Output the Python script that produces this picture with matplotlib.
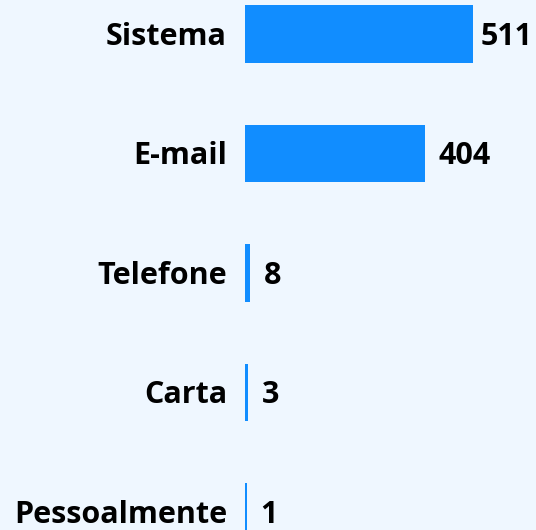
import matplotlib
matplotlib.use("Agg")
import matplotlib.pyplot as plt

categories = ["Sistema", "E-mail", "Telefone", "Carta", "Pessoalmente"]
values = [511, 404, 8, 3, 1]

W, H = 536, 530
dpi = 100
bg = "#EFF7FF"
bar_color = "#118DFF"
txt_color = "#000000"

fig = plt.figure(figsize=(W / dpi, H / dpi), dpi=dpi, facecolor=bg)
left_px = 245
ax = fig.add_axes([left_px / W, 0, (W - left_px) / W, 1], facecolor=bg)

ys = list(range(len(categories)))
bars = ax.barh(ys, values, height=0.455, color=bar_color, edgecolor=bar_color, linewidth=1.5)
for b in bars:
    b.set_snap(False)
    b.set_antialiased(False)

px_per_unit = 226 / 511
step = 119.5
ax.set_xlim(0, (W - left_px) / px_per_unit)
ax.set_ylim((H - 34) / step, -34 / step)

ax.set_yticks([])
ax.set_xticks([])
for s in ax.spines.values():
    s.set_visible(False)

dy = -2
font = dict(fontsize=22, fontweight="bold", family="Open Sans", color=txt_color)
for y, c in zip(ys, categories):
    ax.annotate(c, xy=(0, y), xytext=(-13, dy), textcoords="offset points",
                ha="right", va="center", annotation_clip=False, **font)

fig.canvas.draw()
renderer = fig.canvas.get_renderer()
for y, v in zip(ys, values):
    t = ax.annotate(str(v), xy=(v, y), xytext=(11, dy), textcoords="offset points",
                    ha="left", va="center", annotation_clip=False, **font)
    bb = t.get_window_extent(renderer)
    if bb.x1 > W - 4:
        t.set_position((-(bb.x1 - (W - 4)) * 72 / dpi + 11, dy))

fig.savefig("out.png", dpi=dpi, facecolor=bg)
